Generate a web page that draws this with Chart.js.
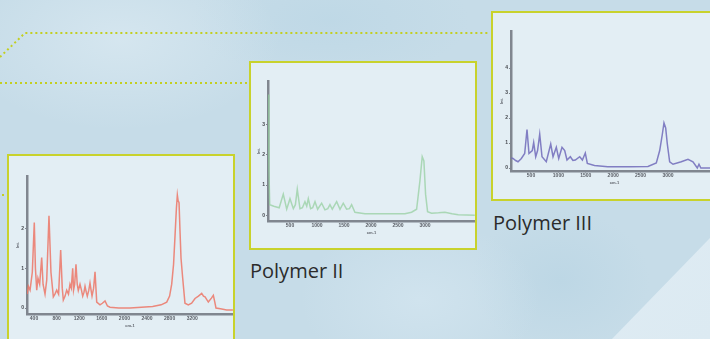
<!DOCTYPE html>
<html>
<head>
<meta charset="utf-8">
<script src="https://cdn.jsdelivr.net/npm/chart.js@4.4.0/dist/chart.umd.min.js"></script>
<style>
  html, body { margin: 0; padding: 0; }
  body {
    width: 710px; height: 339px; overflow: hidden; position: relative;
    background: #c6dce8;
    background-image:
      radial-gradient(ellipse 160px 90px at 120px 40px, rgba(225,238,245,0.55), rgba(225,238,245,0)),
      radial-gradient(ellipse 120px 80px at 420px 300px, rgba(215,232,242,0.6), rgba(215,232,242,0)),
      radial-gradient(ellipse 90px 70px at 560px 280px, rgba(180,210,226,0.5), rgba(180,210,226,0)),
      radial-gradient(ellipse 140px 60px at 330px 20px, rgba(182,212,228,0.45), rgba(182,212,228,0));
    font-family: "Open Sans", "Liberation Sans", sans-serif;
  }
  .wedge {
    position: absolute; left: 0; top: 0; width: 710px; height: 339px;
    background: linear-gradient(135deg, #e9f2f7, #dceaf2);
    clip-path: polygon(612px 339px, 710px 238px, 710px 339px);
  }
  .box {
    position: absolute; box-sizing: border-box;
    border: 2px solid #c8d22c; background: #e3eef4;
  }
  canvas { position: absolute; }
  .label { position: absolute; font-size: 20px; color: #2b2b2b; line-height: 1; white-space: nowrap; }
  svg { position: absolute; left: 0; top: 0; }
</style>
</head>
<body>
<div class="wedge"></div>
<svg width="710" height="339">
  <g fill="none" stroke="#c3cf22" stroke-width="2" stroke-dasharray="2 3">
    <path d="M 0 57 L 25 33 L 490 33"/>
    <path d="M 0 83 L 249 83"/>
    <path d="M 2 195 L 7 195"/>
  </g>
</svg>

<div class="box" style="left:7px;top:154px;width:228px;height:200px;"></div>
<div class="box" style="left:249px;top:61px;width:228px;height:189px;"></div>
<div class="box" style="left:491px;top:11px;width:240px;height:190px;"></div>

<canvas id="chartI" width="218" height="156" style="left:15px;top:172px;"></canvas>
<canvas id="chartII" width="219" height="158" style="left:256px;top:77px;"></canvas>
<canvas id="chartIII" width="219" height="158" style="left:499px;top:27px;"></canvas>

<div class="label" style="left:250px;top:261px;">Polymer II</div>
<div class="label" style="left:493px;top:213px;">Polymer III</div>

<script>
// Polymer I (red)
const wnI = [280, 300, 330, 370, 405, 425, 448, 470, 500, 536, 560, 595, 625, 665, 700, 742, 770, 802, 835, 872,
  900, 919, 950, 978, 1010, 1037, 1060, 1085, 1100, 1120, 1143, 1165, 1184, 1214, 1240, 1262, 1285, 1303, 1325, 1343,
  1370, 1391, 1410, 1427, 1455, 1480, 1510, 1568, 1610, 1657, 1700, 1745, 1900, 2100, 2300, 2500, 2650, 2749, 2800, 2837,
  2870, 2896, 2920, 2937, 2950, 2967, 2985, 3002, 3031, 3072, 3131, 3190, 3250, 3310, 3368, 3400, 3427, 3485, 3540, 3574,
  3600, 3621, 3700, 3810, 3920];
const intI = [0.35, 0.55, 0.45, 0.9, 2.15, 1.0, 0.45, 0.75, 0.6, 1.27, 0.6, 0.35, 0.7, 2.32, 0.9, 0.28, 0.35, 0.45, 0.35, 1.46,
  0.5, 0.2, 0.3, 0.45, 0.35, 0.6, 0.5, 1.0, 0.45, 0.6, 1.1, 0.6, 0.44, 0.6, 0.45, 0.3, 0.4, 0.55, 0.4, 0.3,
  0.45, 0.63, 0.45, 0.3, 0.5, 0.91, 0.15, 0.08, 0.12, 0.18, 0.05, 0.02, 0.0, 0.0, 0.02, 0.04, 0.08, 0.15, 0.3, 0.6,
  1.1, 1.82, 2.5, 2.84, 2.7, 2.65, 1.9, 1.25, 0.76, 0.12, 0.08, 0.12, 0.24, 0.3, 0.37, 0.3, 0.28, 0.15, 0.25, 0.32,
  0.15, 0.0, -0.02, -0.05, -0.05];
const xTicksI = [400, 800, 1200, 1600, 2000, 2400, 2800, 3200];
const yTicksI = [0, 1, 2];

// Polymer II (green)
const wnII = [95, 110, 125, 200, 300, 376, 439, 500, 562, 600, 635, 685, 730, 777, 810, 839, 882, 920, 963, 1012,
  1086, 1147, 1200, 1240, 1283, 1364, 1426, 1486, 1548, 1600, 1641, 1702, 1887, 2200, 2628, 2751, 2844, 2905, 2948, 2979,
  3010, 3047, 3121, 3250, 3368, 3500, 3614, 3922];
const intII = [4.0, 1.5, 0.35, 0.3, 0.25, 0.7, 0.2, 0.55, 0.22, 0.35, 0.86, 0.22, 0.25, 0.45, 0.3, 0.55, 0.22, 0.25, 0.45, 0.2,
  0.4, 0.18, 0.22, 0.35, 0.2, 0.45, 0.2, 0.4, 0.2, 0.22, 0.35, 0.1, 0.05, 0.05, 0.05, 0.1, 0.2, 1.13, 1.94, 1.8,
  0.7, 0.12, 0.07, 0.08, 0.1, 0.05, 0.02, 0.0];
const xTicksII = [500, 1000, 1500, 2000, 2500, 3000];
const yTicksII = [0, 1, 2, 3];

// Polymer III (purple)
const wnIII = [140, 172, 220, 263, 324, 385, 427, 463, 524, 549, 586, 620, 659, 701, 779, 860, 902, 962, 1006, 1066,
  1115, 1157, 1218, 1265, 1309, 1389, 1438, 1491, 1528, 1659, 1900, 2300, 2635, 2787, 2849, 2897, 2927, 2958, 2988, 3031,
  3092, 3243, 3365, 3456, 3535, 3566, 3600, 3920];
const intIII = [0.4, 0.38, 0.3, 0.25, 0.38, 0.58, 1.54, 0.58, 0.7, 1.02, 0.45, 0.7, 1.35, 0.45, 0.25, 0.96, 0.45, 0.83, 0.38, 0.83,
  0.7, 0.32, 0.45, 0.3, 0.32, 0.45, 0.32, 0.6, 0.18, 0.1, 0.05, 0.05, 0.06, 0.2, 0.7, 1.35, 1.8, 1.6, 0.96, 0.25,
  0.15, 0.25, 0.35, 0.25, 0.0, 0.15, 0.0, 0.0];
const xTicksIII = [500, 1000, 1500, 2000, 2500, 3000];
const yTicksIII = [0, 1, 2, 3, 4];

function makeSpectrum(id, wn, inten, xTicks, yTicks, color, xMin, xMax, yMin, yMax) {
  const ctx = document.getElementById(id).getContext("2d");
  const axisColor = "#80868f";
  new Chart(ctx, {
    type: "line",
    data: {
      datasets: [{
        data: wn.map((x, i) => ({ x: x, y: inten[i] })),
        borderColor: color,
        borderWidth: 1.5,
        pointRadius: 0,
        tension: 0,
        fill: false,
      }],
    },
    options: {
      responsive: false,
      animation: false,
      devicePixelRatio: 1,
      layout: { padding: 0 },
      plugins: { legend: { display: false }, tooltip: { enabled: false } },
      scales: {
        x: {
          type: "linear",
          min: xMin,
          max: xMax,
          afterBuildTicks: (scale) => { scale.ticks = xTicks.map((v) => ({ value: v })); },
          afterFit: (scale) => { scale.height = 14; },
          border: { display: true, color: axisColor, width: 2.5 },
          grid: { drawOnChartArea: false, drawTicks: true, tickLength: 2, color: axisColor },
          ticks: { font: { size: 5, weight: "bold" }, color: "#5a5e66", padding: 0, maxRotation: 0, autoSkip: false,
            callback: (v) => String(v) },
          title: { display: true, text: "cm-1", font: { size: 4, weight: "bold" }, color: "#5a5e66", padding: 0 },
        },
        y: {
          min: yMin,
          max: yMax,
          afterBuildTicks: (scale) => { scale.ticks = yTicks.map((v) => ({ value: v })); },
          afterFit: (scale) => { scale.width = 12; },
          border: { display: true, color: axisColor, width: 2.5 },
          grid: { drawOnChartArea: false, drawTicks: true, tickLength: 2, color: axisColor },
          ticks: { font: { size: 5, weight: "bold" }, color: "#45484e", padding: 1, autoSkip: false,
            callback: (v) => String(v) },
          title: { display: true, text: "Int.", font: { size: 4, weight: "bold" }, color: "#5a5e66", padding: 0 },
        },
      },
    },
  });
}

makeSpectrum("chartI", wnI, intI, xTicksI, yTicksI, "rgba(236,118,102,0.85)", 276, 3922, -0.15, 3.32);
makeSpectrum("chartII", wnII, intII, xTicksII, yTicksII, "rgba(145,205,155,0.7)", 93, 3925, -0.19, 4.45);
makeSpectrum("chartIII", wnIII, intIII, xTicksIII, yTicksIII, "rgba(112,106,186,0.85)", 135, 3913, -0.12, 5.48);
</script>
</body>
</html>
